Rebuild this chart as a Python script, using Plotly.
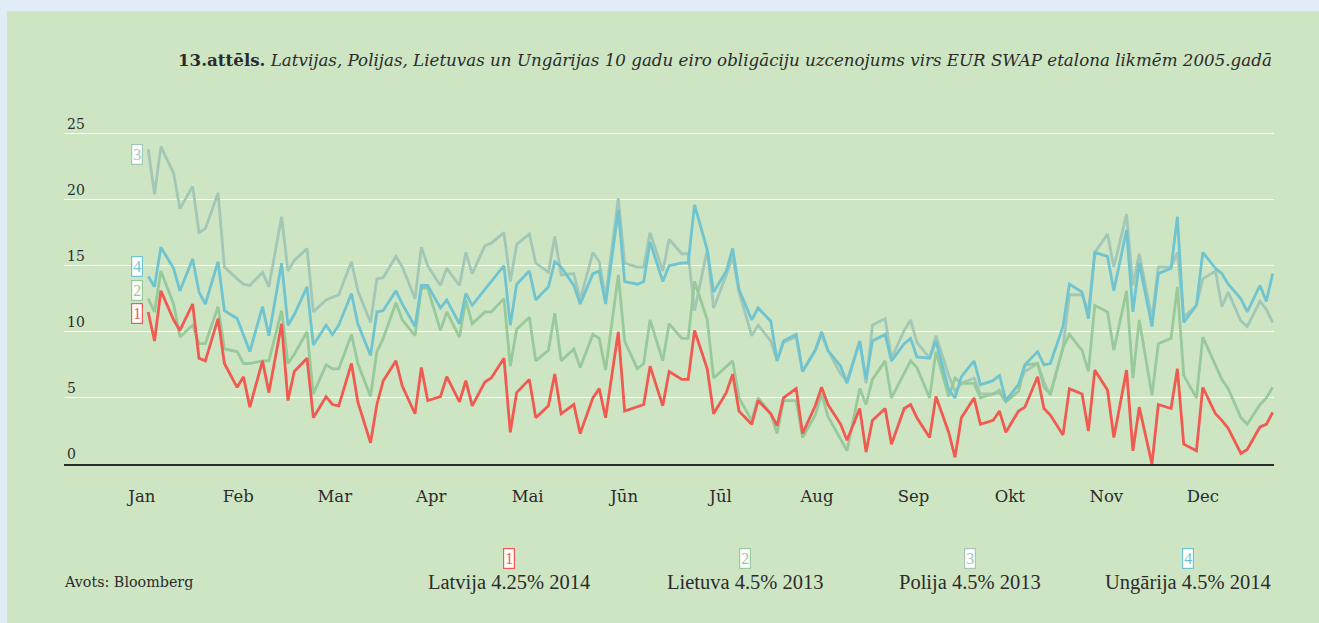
import pandas as pd
import plotly.graph_objects as go

# ---------------- data (bp spread over EUR swap, 2005) ----------------
dates = pd.bdate_range("2005-01-03", "2005-12-23")[::2]

latvija = [11.5, 9.3, 13.1, 10.9, 10.1, 12.1, 8.0, 7.8, 11.0, 7.6, 5.8, 6.6, 4.3, 7.8, 5.4, 10.6, 4.8, 7.0, 8.0, 3.5,
           5.1, 4.5, 4.4, 7.6, 4.7, 1.6, 4.5, 6.3, 7.8, 5.9, 3.8, 7.3, 4.8,
           5.1, 6.6, 4.7, 6.3, 4.4, 6.2, 6.5, 8.0, 2.4, 5.4, 6.4, 3.5, 4.4, 6.8, 3.8, 4.5, 2.3, 5.0, 5.7, 3.5,
           10.0, 4.0, 4.3, 4.5, 7.4, 4.4, 7.0, 6.4, 6.4, 10.1, 7.2, 3.8,
           5.4, 6.8, 4.0, 3.0, 4.8, 3.8, 2.9, 5.0, 5.7, 2.3, 4.4, 5.8, 4.5, 3.0, 1.8, 4.2, 0.9, 3.3, 4.2, 1.5,
           4.2, 4.5, 3.5, 2.0, 5.1, 2.4, 0.5, 3.5, 5.0, 3.0, 3.3, 4.0,
           2.4, 4.0, 4.3, 6.6, 4.2, 3.7, 2.2, 5.7, 5.3, 2.5, 7.1, 5.6, 2.0, 7.1, 1.0, 4.3, 0.0, 4.5, 4.2, 7.2,
           1.5, 1.0, 5.8, 3.8, 3.3, 2.7, 0.8, 1.1, 2.8, 3.0, 3.9]

lietuva = [12.5, 11.5, 14.6, 12.1, 9.6, 10.5, 9.1, 9.1, 11.9, 8.7, 8.5, 7.6, 7.6, 7.8, 7.8, 11.6, 7.6, 8.3, 10.0, 5.3,
           7.5, 7.2, 7.2, 9.8, 7.6, 5.1, 8.5, 9.5, 12.2, 10.9, 9.7, 13.3, 13.3,
           10.1, 11.5, 9.6, 12.4, 10.6, 11.5, 11.5, 12.5, 7.4, 10.2, 11.1, 7.8, 8.6, 11.4, 7.8, 8.7, 7.3, 9.8,
           9.5, 7.1, 14.3, 9.3, 7.2, 7.6, 10.9, 7.8, 10.6, 9.5, 9.5, 13.8, 10.9, 6.5,
           7.4, 7.8, 5.0, 3.3, 5.0, 3.8, 2.3, 4.8, 4.8, 2.0, 3.7, 5.3, 3.6, 1.8, 1.0, 5.7, 4.5, 6.4, 7.8, 5.0,
           6.9, 7.8, 7.3, 5.0, 8.5, 5.1, 6.5, 6.1, 6.1, 5.0, 5.3, 5.4,
           4.7, 5.5, 7.5, 7.6, 5.8, 5.3, 8.8, 9.8, 8.6, 7.0, 12.0, 11.5, 8.6, 13.1, 6.5, 10.9, 5.2, 9.1, 9.5,
           13.4, 6.7, 5.0, 9.6, 7.4, 6.4, 5.7, 3.5, 3.0, 4.5, 5.0, 5.8]

polija = [23.8, 20.4, 24.0, 22.0, 19.3, 21.0, 17.5, 17.8, 20.5, 14.9, 14.0, 13.6, 13.5, 14.5, 13.4, 18.7, 14.6, 15.4,
          16.3, 11.5, 12.4, 12.6, 12.8, 15.3, 13.1, 10.7, 14.0, 14.1, 15.7, 14.9, 12.5, 16.4, 15.0,
          13.5, 14.8, 13.5, 16.0, 14.4, 16.5, 16.7, 17.5, 13.8, 16.6, 17.4, 15.2, 14.5, 17.2, 14.3, 14.4, 12.4,
          16.0, 15.3, 12.6, 20.1, 15.2, 14.9, 14.9, 17.5, 14.6, 17.0, 15.9, 15.9, 11.6, 16.2, 11.8,
          14.3, 15.7, 13.0, 9.7, 10.5, 9.3, 7.8, 9.2, 9.6, 7.0, 8.6, 9.8, 8.6, 6.8, 6.3, 9.3, 6.1, 10.5, 11.0,
          8.0, 10.1, 10.9, 9.2, 8.0, 9.7, 6.7, 5.5, 6.1, 6.5, 5.3, 5.3, 5.6,
          4.8, 6.0, 7.0, 7.6, 6.2, 5.2, 8.8, 12.8, 12.8, 11.5, 16.0, 17.4, 14.9, 18.9, 13.5, 15.9, 11.0, 14.9,
          14.9, 16.0, 11.1, 12.0, 14.0, 14.6, 11.9, 13.0, 10.8, 10.4, 12.3, 11.7, 10.7]

ungarija = [14.2, 13.4, 16.4, 14.8, 13.1, 15.5, 13.0, 12.1, 15.3, 11.6, 11.0, 9.8, 8.5, 11.9, 9.7, 15.2, 10.5, 11.3,
            13.4, 9.0, 10.5, 9.8, 10.5, 12.9, 10.6, 8.2, 11.5, 11.6, 13.1, 12.1, 10.4, 13.5, 13.5,
            11.8, 12.4, 10.6, 12.9, 12.0, 13.2, 13.8, 15.0, 10.5, 13.6, 14.6, 12.4, 13.4, 15.3, 14.9, 13.5, 12.1,
            14.4, 14.6, 12.1, 19.2, 13.8, 13.6, 13.8, 16.8, 13.8, 15.0, 15.2, 15.2, 19.6, 16.2, 13.0,
            14.6, 16.3, 13.2, 10.9, 11.8, 10.8, 7.8, 9.3, 9.8, 7.0, 8.6, 10.0, 8.6, 7.4, 6.1, 9.3, 6.4, 9.3, 9.8,
            7.8, 9.1, 9.5, 8.1, 8.0, 9.3, 5.6, 5.0, 6.6, 7.8, 6.0, 6.3, 6.7,
            4.8, 6.0, 7.5, 8.5, 7.5, 7.6, 10.4, 13.6, 13.0, 11.0, 16.0, 15.7, 13.1, 17.7, 11.5, 15.2, 10.4, 14.4,
            14.8, 18.7, 10.7, 12.0, 16.0, 14.8, 14.4, 13.6, 12.5, 11.5, 13.5, 12.3, 14.4]

month_labels = ["Jan", "Feb", "Mar", "Apr", "Mai", "Jūn", "Jūl", "Aug", "Sep", "Okt", "Nov", "Dec"]

series_names = ["Latvija 4.25% 2014", "Lietuva 4.5% 2013", "Polija 4.5% 2013", "Ungārija 4.5% 2014"]
series_numbers = ["1", "2", "3", "4"]
y_ticks = [0, 5, 10, 15, 20, 25]

title_bold = "13.attēls."
title_rest = "Latvijas, Polijas, Lietuvas un Ungārijas 10 gadu eiro obligāciju uzcenojums virs EUR SWAP etalona likmēm 2005.gadā"
source_text = "Avots: Bloomberg"

# month labels are evenly spaced along the axis (Jan 1 .. Dec 1)
year_start = pd.Timestamp("2005-01-01")
month_ticks = [year_start + pd.Timedelta(days=334 * i / 11) for i in range(len(month_labels))]

# ---------------- styling ----------------
C_RED = "#f05a50"
C_GREEN = "#97c99b"
C_GRAY = "#a2c7b6"
C_CYAN = "#6fc4d0"
PANEL = "#cee5c4"
OUTER = "#e1ecf7"
TEXT = "#2b2b2b"
SERIF = "DejaVu Serif"
NARROW = "Liberation Serif"

W, H = 1319, 623
ML, MR, MT, MB = 64, 45, 107, 159
PW, PH = W - ML - MR, H - MT - MB
Y_MAX = 27


def px_x(px):
    return (px - ML) / PW


def px_y(py):
    return (H - MB - py) / PH


values = [latvija, lietuva, polija, ungarija]
colors = [C_RED, C_GREEN, C_GRAY, C_CYAN]

fig = go.Figure()
draw_order = [2, 1, 3, 0]  # Polija, Lietuva, Ungārija, Latvija on top
for i in draw_order:
    fig.add_trace(go.Scatter(
        x=dates, y=values[i], mode="lines", name=series_names[i],
        line=dict(color=colors[i], width=2.8), showlegend=False,
    ))

annotations = []
# title
annotations.append(dict(
    xref="paper", yref="paper", x=px_x(1274), y=px_y(60), xanchor="right", yanchor="middle",
    text=f"<b>{title_bold}</b> <i>{title_rest}</i>", showarrow=False,
    font=dict(family=SERIF, size=16.7, color=TEXT),
))
# numbered tags at the start of the lines
tag_y = {"3": 23.4, "4": 14.9, "2": 13.1, "1": 11.4}
for num, col in zip(series_numbers, colors):
    annotations.append(dict(
        xref="paper", yref="y", x=px_x(143), y=tag_y[num], xanchor="right", yanchor="middle",
        text=num, showarrow=False, bgcolor="white", bordercolor=col, borderwidth=1.2, borderpad=1,
        font=dict(family=NARROW, size=16, color=col),
    ))
# legend at the bottom
legend_cx = [509, 745, 970, 1188]
for num, name, col, cx in zip(series_numbers, series_names, colors, legend_cx):
    annotations.append(dict(
        xref="paper", yref="paper", x=px_x(cx), y=px_y(558), xanchor="center", yanchor="middle",
        text=num, showarrow=False, bgcolor="white", bordercolor=col, borderwidth=1.2, borderpad=1,
        font=dict(family=NARROW, size=16, color=col),
    ))
    annotations.append(dict(
        xref="paper", yref="paper", x=px_x(cx), y=px_y(582), xanchor="center", yanchor="middle",
        text=name, showarrow=False, font=dict(family=NARROW, size=20.5, color=TEXT),
    ))
annotations.append(dict(
    xref="paper", yref="paper", x=px_x(62), y=px_y(582), xanchor="left", yanchor="middle",
    text=source_text, showarrow=False, font=dict(family=SERIF, size=14.3, color=TEXT),
))

shapes = [dict(
    type="rect", xref="paper", yref="paper", layer="below",
    x0=px_x(7), x1=px_x(W + 5), y0=px_y(H + 5), y1=px_y(11),
    fillcolor=PANEL, line=dict(width=0),
)]

fig.update_layout(
    width=W, height=H,
    margin=dict(l=ML, r=MR, t=MT, b=MB, pad=0),
    paper_bgcolor=OUTER, plot_bgcolor="rgba(0,0,0,0)",
    annotations=annotations, shapes=shapes,
    hovermode=False,
    xaxis=dict(
        type="date", range=["2004-12-07 12:00", "2005-12-23 10:00"],
        tickvals=month_ticks, ticktext=month_labels,
        ticks="outside", ticklen=16, tickcolor="rgba(0,0,0,0)",
        showgrid=False, zeroline=False,
        showline=True, linecolor=TEXT, linewidth=1.5,
        tickfont=dict(family=SERIF, size=16.5, color=TEXT),
    ),
    yaxis=dict(
        range=[0, Y_MAX], tickvals=y_ticks, ticktext=[str(v) for v in y_ticks],
        ticklabelposition="inside top",
        showgrid=True, gridcolor="white", gridwidth=1.3,
        zeroline=False, showline=False, ticks="",
        tickfont=dict(family=SERIF, size=14, color=TEXT),
    ),
)

fig.write_html("out.html", config={"displayModeBar": False},
               post_script="document.body.style.margin='0';document.body.style.overflow='hidden';")
